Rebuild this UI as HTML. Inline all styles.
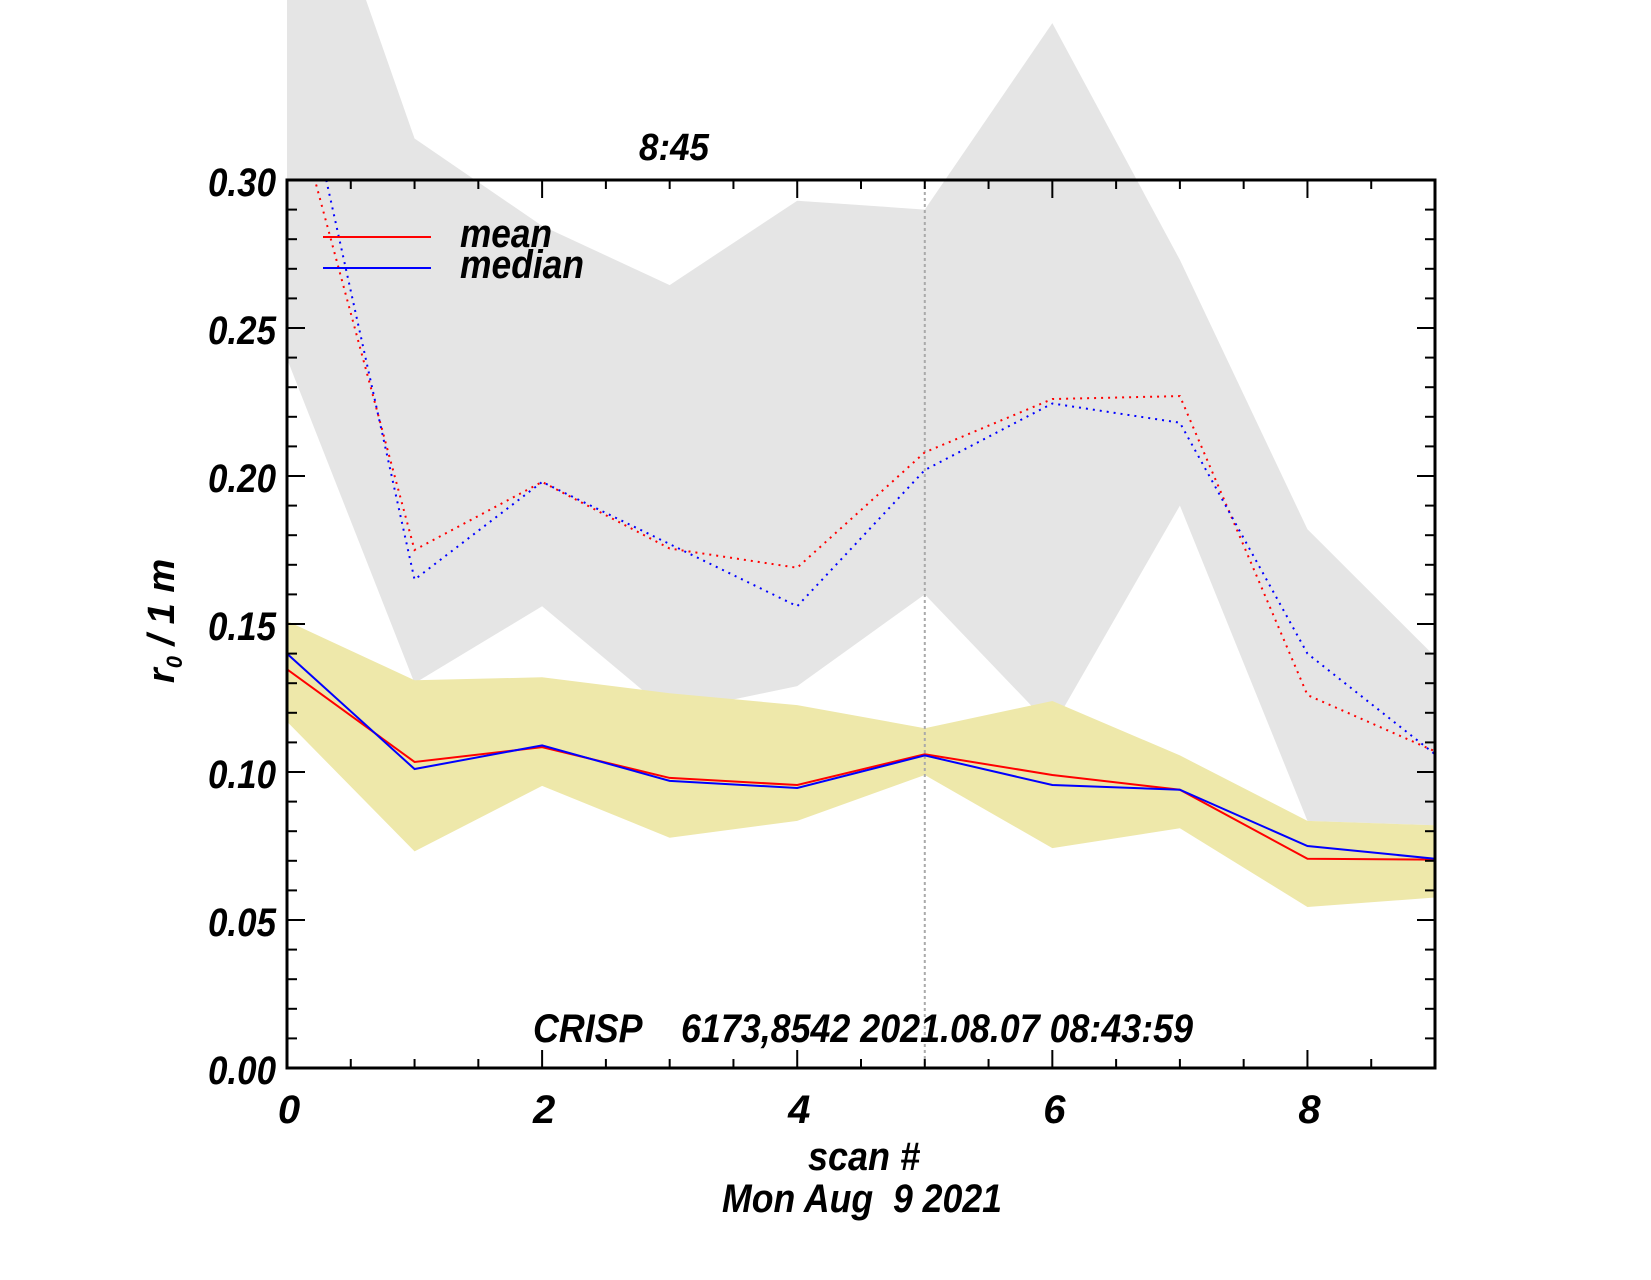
<!DOCTYPE html>
<html><head><meta charset="utf-8"><style>
html,body{margin:0;padding:0;background:#fff;}
svg text{font-family:"Liberation Sans",sans-serif;font-weight:bold;font-style:italic;fill:#000;white-space:pre;}
</style></head><body>
<svg id="chart" width="1651" height="1275" viewBox="0 0 1651 1275" xmlns="http://www.w3.org/2000/svg">
<defs><clipPath id="clipX"><rect x="287" y="0" width="1148" height="1275"/></clipPath>
<clipPath id="clipPlot"><rect x="287" y="180" width="1148" height="888"/></clipPath></defs>
<g id="bands"></g><g id="lines"></g><g id="axes"></g>
</svg>
<script>
const scans=[0,1,2,3,4,5,6,7,8,9];
const grayUpper=[0.437,0.314,0.2845,0.2645,0.293,0.290,0.353,0.273,0.182,0.139];
const grayLower=[0.2396,0.13,0.156,0.12,0.129,0.160,0.115,0.19,0.0835,0.082];
const yellowUpper=[0.151,0.131,0.132,0.1266,0.1226,0.1148,0.124,0.1056,0.0835,0.082];
const yellowLower=[0.117,0.0732,0.0953,0.0778,0.0835,0.099,0.0743,0.081,0.0544,0.0576];
const meanSolid=[0.1347,0.1034,0.1084,0.098,0.0956,0.106,0.099,0.094,0.0707,0.0704];
const medianSolid=[0.140,0.101,0.109,0.097,0.0946,0.1056,0.0956,0.094,0.075,0.0707];
const meanDotted=[0.335,0.175,0.198,0.1755,0.169,0.208,0.226,0.227,0.126,0.107];
const medianDotted=[0.36,0.165,0.198,0.177,0.156,0.202,0.2245,0.218,0.140,0.106];
const yTicks=["0.00","0.05","0.10","0.15","0.20","0.25","0.30"];
const xTicks=["0","2","4","6","8"];
const NS="http://www.w3.org/2000/svg";
const X0=287,X1=1435,Y0=1068,Y1=180;
const xs=v=>X0+(v-0)/(9-0)*(X1-X0);
const ys=v=>Y0-(v/0.30)*(Y0-Y1);
function mk(tag,attrs,parent){const e=document.createElementNS(NS,tag);for(const k in attrs)e.setAttribute(k,attrs[k]);parent.appendChild(e);return e;}
const bands=document.getElementById('bands'),lines=document.getElementById('lines'),axes=document.getElementById('axes');
function band(up,lo,color,name){
  let pts=scans.map((s,i)=>xs(s)+','+ys(up[i]));
  pts=pts.concat(scans.slice().reverse().map((s,j)=>xs(s)+','+ys(lo[scans.length-1-j])));
  const p=mk('polygon',{points:pts.join(' '),fill:color,'clip-path':'url(#clipX)'},bands);
  
  
}
band(grayUpper,grayLower,'#e5e5e5','gray-range-band');
band(yellowUpper,yellowLower,'#eee8aa','yellow-range-band');
function line(vals,color,dash,name){
  const p=mk('polyline',{points:scans.map((s,i)=>xs(s)+','+ys(vals[i])).join(' '),fill:'none',stroke:color,'stroke-width':2,'clip-path':'url(#clipPlot)'},lines);
  if(dash)p.setAttribute('stroke-dasharray','2,5');
  
  
}
const vm=mk('line',{x1:xs(5),x2:xs(5),y1:Y1,y2:Y0,stroke:'#aaa','stroke-width':2,'stroke-dasharray':'3,3'},lines);


line(meanDotted,'#ff0000',true,'mean-dotted-line');
line(medianDotted,'#0000ff',true,'median-dotted-line');
line(meanSolid,'#ff0000',false,'mean-line');
line(medianSolid,'#0000ff',false,'median-line');
const fr=mk('rect',{x:X0,y:Y1,width:X1-X0,height:Y0-Y1,fill:'none',stroke:'#000','stroke-width':3},axes);


for(let k=0;k<=30;k++){
  const v=k*0.01,y=ys(v),L=(k%5===0)?18:10;
  mk('line',{x1:X0,x2:X0+L,y1:y,y2:y,stroke:'#000','stroke-width':2},axes);
  mk('line',{x1:X1,x2:X1-L,y1:y,y2:y,stroke:'#000','stroke-width':2},axes);
}
yTicks.forEach(t=>{
  const e=mk('text',{x:276,y:ys(parseFloat(t))+16,'text-anchor':'end','font-size':40,textLength:68,lengthAdjust:'spacingAndGlyphs'},axes);
  e.textContent=t;
  
  
});
for(let k=0;k<=18;k++){
  const v=k*0.5,x=xs(v),L=(k%4===0)?18:9;
  mk('line',{x1:x,x2:x,y1:Y0,y2:Y0-L,stroke:'#000','stroke-width':2},axes);
  mk('line',{x1:x,x2:x,y1:Y1,y2:Y1+L,stroke:'#000','stroke-width':2},axes);
}
xTicks.forEach(t=>{
  const e=mk('text',{x:xs(parseFloat(t))+2,y:1123,'text-anchor':'middle','font-size':40},axes);
  e.textContent=t;
  
  
});
function txt(s,x,y,size,name,anchor,len){
  const e=mk('text',{x:x,y:y,'font-size':size,'text-anchor':anchor||'start'},axes);
  if(len){e.setAttribute('textLength',len);e.setAttribute('lengthAdjust','spacingAndGlyphs');}
  e.textContent=s;
  
  
  return e;
}
txt('scan #',864,1170,40,'x-axis-title','middle',112);
txt('Mon Aug  9 2021',722,1212,40,'date-label','start',280);
txt('CRISP    6173,8542 2021.08.07 08:43:59',533,1042,40,'instrument-annotation','start',660);
txt('8:45',674,160,38,'title','middle',70);
const yt=mk('text',{transform:'translate(174,621) rotate(-90)','text-anchor':'middle','font-size':38},axes);
yt.innerHTML='r<tspan font-size="22" dy="8">0</tspan><tspan dy="-8"> / 1 m</tspan>';


const l1=mk('line',{x1:323,x2:431,y1:237,y2:237,stroke:'#ff0000','stroke-width':2},axes);


const l2=mk('line',{x1:323,x2:431,y1:268,y2:268,stroke:'#0000ff','stroke-width':2},axes);


txt('mean',460,247,40,'legend-mean-label','start',92);
txt('median',460,278,40,'legend-median-label','start',124);
</script>
</body></html>
